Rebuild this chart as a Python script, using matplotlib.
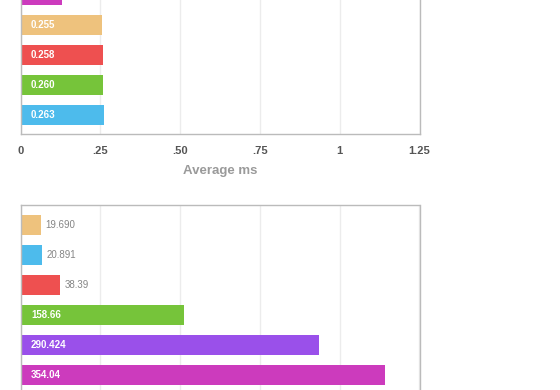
"""Two horizontal bar panels: average ms (top) and totals (bottom)."""

import matplotlib.pyplot as plt
import numpy as np

# --- data ------------------------------------------------------------------
# the first top bar is cut by the canvas edge; its label is not visible
TOP_VALUES = [0.13, 0.255, 0.258, 0.260, 0.263]
TOP_LABELS = ["", "0.255", "0.258", "0.260", "0.263"]
TOP_COLORS = ["#cc3bbd", "#eec27d", "#ee5050", "#76c43a", "#4dbbec"]
TOP_TICKS = [0, 0.25, 0.50, 0.75, 1, 1.25]
TOP_TICK_LABELS = ["0", ".25", ".50", ".75", "1", "1.25"]

BOTTOM_VALUES = [19.690, 20.891, 38.39, 158.66, 290.424, 354.04]
BOTTOM_LABELS = ["19.690", "20.891", "38.39", "158.66", "290.424", "354.04"]
BOTTOM_COLORS = ["#eec27d", "#4dbbec", "#ee5050", "#76c43a", "#9a50ea", "#cc3bbd"]
BOTTOM_XMAX = 388

# --- style -------------------------------------------------------------------
FONT = ["Liberation Sans", "DejaVu Sans"]
COLOR_FRAME = "#bbbbbb"
COLOR_GRID = "#ececec"
COLOR_TICK = "#555555"
COLOR_OUTSIDE = "#858585"
COLOR_XLABEL = "#9a9a9a"
BAR_HEIGHT = 2 / 3
PAD = 0.64  # band padding above first / below last bar, in bar units
INSIDE_MIN = 0.1  # labels go inside a bar longer than this share of the axis

plt.rcParams["font.family"] = FONT


def _style_axes(ax, xmax, ticks):
    ax.set_xlim(0, xmax)
    ax.set_xticks(ticks)
    for s in ax.spines.values():
        s.set_color(COLOR_FRAME)
        s.set_linewidth(1.0)
    ax.grid(True, axis="x", color=COLOR_GRID, linewidth=1.0)
    ax.set_axisbelow(True)
    ax.set_yticks([])
    ax.tick_params(axis="x", length=0)


def _bars(ax, values, labels, colors, xmax):
    y = np.arange(len(values))
    ax.barh(y, values, height=BAR_HEIGHT, color=colors, zorder=2)
    for yi, v, lab in zip(y, values, labels):
        if not lab:
            continue
        if v > INSIDE_MIN * xmax:
            ax.annotate(lab, xy=(0, yi), xytext=(7.5, -0.5), textcoords="offset points",
                        va="center", ha="left", color="white", fontsize=7,
                        fontweight="bold", zorder=3)
        else:
            ax.annotate(lab, xy=(v, yi), xytext=(3.5, -0.5), textcoords="offset points",
                        va="center", ha="left", color=COLOR_OUTSIDE, fontsize=7,
                        zorder=3)
    ax.set_ylim(len(values) - 1 + PAD, -PAD)


fig = plt.figure(figsize=(5.6, 3.9), dpi=100)

W = 560.0
H = 390.0
left = 20.5 / W
width = 399 / W

# top panel: bottom edge at y=134 px, top runs off the canvas
top_h = (len(TOP_VALUES) - 1 + 2 * PAD) * 30 / H
ax_top = fig.add_axes([left, (H - 134) / H, width, top_h])
_bars(ax_top, TOP_VALUES, TOP_LABELS, TOP_COLORS, 1.25)
_style_axes(ax_top, 1.25, TOP_TICKS)
ax_top.set_xticklabels(TOP_TICK_LABELS)
ax_top.tick_params(axis="x", pad=9, labelsize=8, labelcolor=COLOR_TICK)
for t in ax_top.get_xticklabels():
    t.set_fontweight("bold")
ax_top.set_xlabel("Average ms", color=COLOR_XLABEL, fontsize=9.5,
                  fontweight="bold", labelpad=6)

# bottom panel: top edge at y=205 px, bottom runs off the canvas
bot_h = (len(BOTTOM_VALUES) - 1 + 2 * PAD) * 30 / H
ax_bot = fig.add_axes([left, (H - 205.3) / H - bot_h, width, bot_h])
_bars(ax_bot, BOTTOM_VALUES, BOTTOM_LABELS, BOTTOM_COLORS, BOTTOM_XMAX)
_style_axes(ax_bot, BOTTOM_XMAX, np.linspace(0, BOTTOM_XMAX, 6))
ax_bot.set_xticklabels([])

fig.savefig("out.png", dpi=100)
